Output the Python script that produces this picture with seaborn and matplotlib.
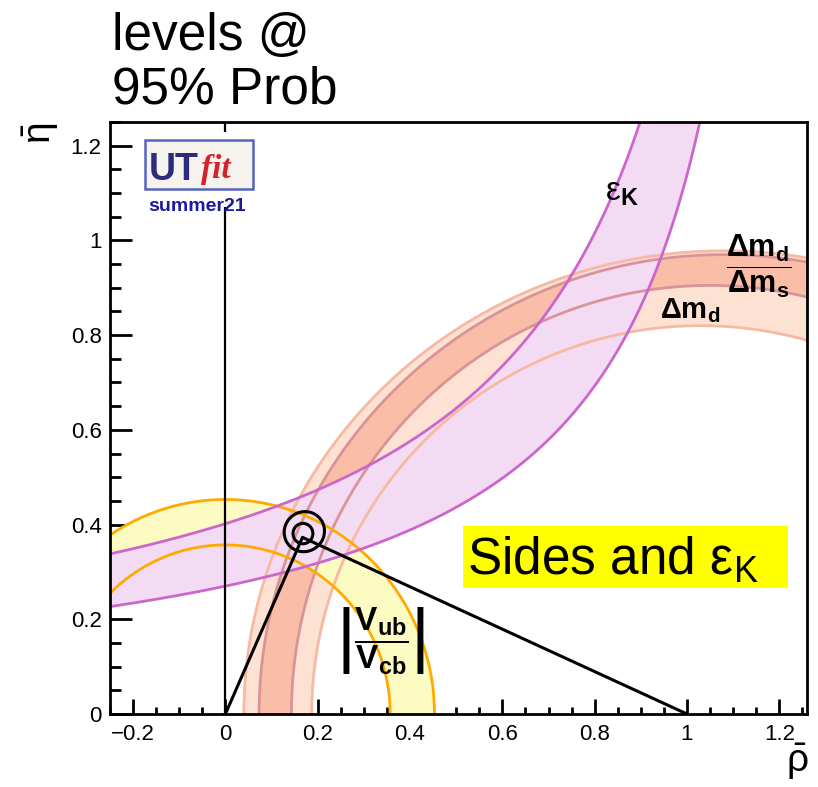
import numpy as np
import matplotlib
matplotlib.use("Agg")
import matplotlib.pyplot as plt
from matplotlib.patches import Ellipse, Rectangle
from matplotlib.ticker import MultipleLocator, FuncFormatter
import seaborn as sns

# ==========================================
# DATA
# ==========================================
# Delta m_d band: upper half-ellipses around (cx, 0) -> [cx, a, b]
dmd_outer = [1.08, 1.04, 0.978]
dmd_inner = [1.03, 0.843, 0.82]
# Delta m_d / Delta m_s band
ratio_outer = [1.08, 1.007, 0.97]
ratio_inner = [1.05, 0.907, 0.905]
# |Vub/Vcb| band: circles around the origin
vub_radii = [0.357, 0.453]
# eps_K band: eta = c / (d - rho) -> [c, d]
epsk_lower = [0.354, 1.311]
epsk_upper = [0.532, 1.324]
epsk_rho = [-0.25, 1.12]
# unitarity triangle and fit contours
triangle_rho = [0.0, 0.167, 1.0]
triangle_eta = [0.0, 0.373, 0.0]
contour_rho = [0.171, 0.168]
contour_eta = [0.385, 0.381]
contour_w = [0.088, 0.043]
contour_h = [0.084, 0.043]
contour_angle = [25, 0]

# colours
c_dmd_fill, c_dmd_line = "#FDE2D3", "#F7B9A2"
c_ratio_fill, c_ratio_line = "#F9BDA8", "#D99497"
c_vub_fill, c_vub_line = "#FCFBC2", "#FFAA00"
c_epsk_fill, c_epsk_line = "#F3DCF3", "#CC66CC"

# ==========================================
# STYLE
# ==========================================
sns.set_theme(style="white")
plt.rcParams["font.family"] = ["Liberation Sans", "DejaVu Sans"]
plt.rcParams["mathtext.fontset"] = "custom"
plt.rcParams["mathtext.rm"] = "Liberation Sans"
plt.rcParams["mathtext.it"] = "Liberation Sans:italic"
plt.rcParams["mathtext.bf"] = "Liberation Sans:bold"
plt.rcParams["mathtext.sf"] = "Liberation Sans"
for k in ["text.color", "axes.labelcolor", "xtick.color", "ytick.color",
          "axes.edgecolor"]:
    plt.rcParams[k] = "black"

W, H = 818, 787
fig = plt.figure(figsize=(W / 100, H / 100), dpi=100)
ax = fig.add_axes([110 / W, 1 - 714 / H, 697 / W, 592 / H])

t = np.linspace(0, np.pi, 500)


def half_ellipse(p):
    cx, a, b = p
    return cx + a * np.cos(t), b * np.sin(t)


def ring(outer, inner):
    xo, yo = outer
    xi, yi = inner
    return np.concatenate([xo, xi[::-1]]), np.concatenate([yo, yi[::-1]])


# ---- fills ----
dmd_o, dmd_i = half_ellipse(dmd_outer), half_ellipse(dmd_inner)
rat_o, rat_i = half_ellipse(ratio_outer), half_ellipse(ratio_inner)
vub_i = half_ellipse([0.0, vub_radii[0], vub_radii[0]])
vub_o = half_ellipse([0.0, vub_radii[1], vub_radii[1]])

ax.fill(*ring(dmd_o, dmd_i), color=c_dmd_fill, lw=0, zorder=1)
ax.fill(*ring(rat_o, rat_i), color=c_ratio_fill, lw=0, zorder=1.1)
ax.fill(*ring(vub_o, vub_i), color=c_vub_fill, lw=0, zorder=1.2)

rho = np.linspace(epsk_rho[0], epsk_rho[1], 600)
eta_lo = epsk_lower[0] / (epsk_lower[1] - rho)
eta_up = epsk_upper[0] / (epsk_upper[1] - rho)
ax.fill_between(rho, eta_lo, eta_up, color=c_epsk_fill, lw=0, zorder=1.3)

# ---- band edges ----
for (xs, ys), col in [(dmd_o, c_dmd_line), (dmd_i, c_dmd_line),
                      (rat_o, c_ratio_line), (rat_i, c_ratio_line),
                      (vub_o, c_vub_line), (vub_i, c_vub_line)]:
    sns.lineplot(x=xs, y=ys, sort=False, estimator=None, color=col,
                 lw=2, ax=ax, zorder=2)
for ys in (eta_lo, eta_up):
    sns.lineplot(x=rho, y=ys, sort=False, estimator=None, color=c_epsk_line,
                 lw=2, ax=ax, zorder=2.1)

# ---- triangle and contours ----
ax.axvline(0, color="black", lw=1.6, zorder=2.5)
sns.lineplot(x=triangle_rho, y=triangle_eta, sort=False, estimator=None,
             color="black", lw=2.2, ax=ax, zorder=3)
for cx, cy, w, h, ang in zip(contour_rho, contour_eta, contour_w, contour_h,
                             contour_angle):
    ax.add_patch(Ellipse((cx, cy), w, h, angle=ang, fill=False, ec="black",
                         lw=2.2, zorder=3))

# ==========================================
# AXES
# ==========================================
ax.set_xlim(-0.25, 1.26)
ax.set_ylim(0, 1.25)
ax.xaxis.set_major_locator(MultipleLocator(0.2))
ax.xaxis.set_minor_locator(MultipleLocator(0.05))
ax.yaxis.set_major_locator(MultipleLocator(0.2))
ax.yaxis.set_minor_locator(MultipleLocator(0.05))
fmt = FuncFormatter(lambda v, p: f"{v:g}".replace("-", "\u2212"))
ax.xaxis.set_major_formatter(fmt)
ax.yaxis.set_major_formatter(fmt)
ax.tick_params(axis="x", which="major", direction="in", length=11, width=2,
               labelsize=16, pad=7, bottom=True, top=False)
ax.tick_params(axis="x", which="minor", direction="in", length=5, width=2,
               bottom=True, top=False)
ax.tick_params(axis="y", which="major", direction="in", length=16, width=2,
               labelsize=16, pad=6, left=True, right=False)
ax.tick_params(axis="y", which="minor", direction="in", length=8, width=2,
               left=True, right=False)
for s in ax.spines.values():
    s.set_linewidth(2)
    s.set_color("black")
    s.set_zorder(10)

# ==========================================
# LABELS AND TEXT
# ==========================================
fig.text(112 / W, 1 - 50 / H, "levels @", fontsize=37, va="baseline")
fig.text(112 / W, 1 - 104 / H, "95% Prob", fontsize=37, va="baseline")
fig.text(41 / W, 1 - 133 / H, r"$\bar{\mathrm{\eta}}$", fontsize=28,
         rotation=90, ha="center", va="center")
fig.text(797 / W, 1 - 762 / H, r"$\bar{\mathrm{\rho}}$", fontsize=28,
         ha="center", va="center")

# logo
ax.add_patch(Rectangle((0.043, 0.856), 0.17, 0.127, transform=ax.transAxes,
                       fc="white", ec="none", zorder=5))
ax.add_patch(Rectangle((0.050, 0.887), 0.155, 0.083, transform=ax.transAxes,
                       fc="#F6F3EE", ec="#5565BD", lw=1.8, zorder=6))
ax.text(0.055, 0.902, "UT", transform=ax.transAxes, fontsize=27,
        fontweight="bold", color="#2B2D7C", va="baseline", zorder=7)
ax.text(0.130, 0.905, "fit", transform=ax.transAxes, fontsize=24,
        family="Liberation Serif", style="italic", fontweight="bold",
        color="#D8202C", va="baseline", zorder=7)
ax.text(0.125, 0.850, "summer21", transform=ax.transAxes, fontsize=14,
        fontweight="bold", color="#1A1AA0", ha="center", va="baseline",
        zorder=7)

# band labels
ax.text(0.71, 0.868, r"$\mathregular{ε}_{\mathbf{K}}$",
        transform=ax.transAxes, fontsize=24, va="baseline", zorder=8)
ax.text(0.931, 0.757, r"$\dfrac{\mathbf{\Delta m_d}}{\mathbf{\Delta m_s}}$",
        transform=ax.transAxes, fontsize=22, ha="center", va="center",
        zorder=8)
ax.text(0.789, 0.669, r"$\mathbf{\Delta m_d}$", transform=ax.transAxes,
        fontsize=21, va="baseline", zorder=8)
ax.text(0.389, 0.122,
        r"$\left|\dfrac{\mathbf{V_{ub}}}{\mathbf{V_{cb}}}\right|$",
        transform=ax.transAxes, fontsize=24, ha="center", va="center",
        zorder=8)

# legend box
ax.add_patch(Rectangle((0.506, 0.213), 0.467, 0.105, transform=ax.transAxes,
                       fc="#FFFF00", ec="none", zorder=8))
ax.text(0.512, 0.236, r"Sides and $\mathregular{ε_K}$",
        transform=ax.transAxes, fontsize=37, va="baseline", zorder=9)

fig.savefig("out.png", dpi=100)
